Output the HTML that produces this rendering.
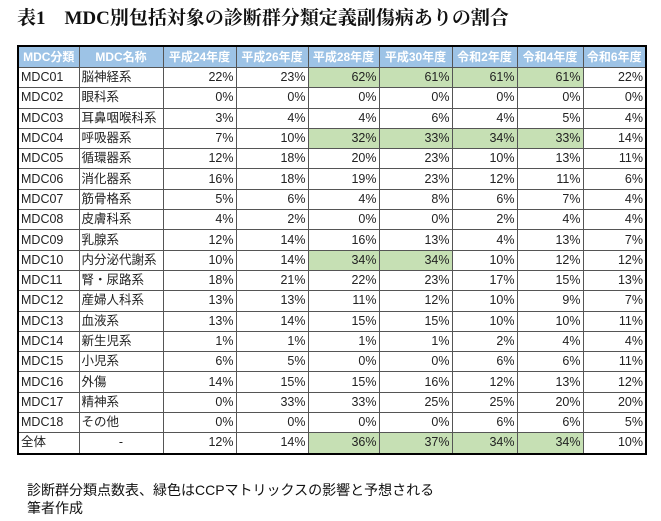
<!DOCTYPE html>
<html><head><meta charset="utf-8"><style>
body{margin:0;width:661px;height:521px;background:#fff;position:relative;overflow:hidden;font-family:"Liberation Sans","Noto Sans CJK JP",sans-serif;}
.t{position:absolute;left:17px;top:3px;font-family:"Liberation Serif","Noto Serif CJK SC",serif;font-size:19px;font-weight:bold;color:#111;white-space:nowrap;}
table{position:absolute;left:17px;top:45px;border-collapse:collapse;border:2px solid #000;table-layout:fixed;}
td,th{border:1px solid #555;height:19.3px;padding:0 2px;font-size:12.5px;color:#222;white-space:nowrap;overflow:hidden;line-height:19px;}
th{background:#9dc3e6;color:#fff;font-weight:bold;height:20px;font-size:12px;}
td.n{text-align:right;}
td.c{text-align:center;}
.g{background:#c6e0b4;}
.f{position:absolute;left:27px;font-size:14px;color:#111;white-space:nowrap;}
</style></head><body>
<div class="t">表1　MDC別包括対象の診断群分類定義副傷病ありの割合</div>
<table>
<colgroup><col style="width:61px"><col style="width:84px"><col style="width:73px"><col style="width:72px"><col style="width:71px"><col style="width:73px"><col style="width:65px"><col style="width:66px"><col style="width:63px"></colgroup>
<tr><th>MDC分類</th><th>MDC名称</th><th>平成24年度</th><th>平成26年度</th><th>平成28年度</th><th>平成30年度</th><th>令和2年度</th><th>令和4年度</th><th>令和6年度</th></tr>
<tr><td>MDC01</td><td>脳神経系</td><td class="n">22%</td><td class="n">23%</td><td class="n g">62%</td><td class="n g">61%</td><td class="n g">61%</td><td class="n g">61%</td><td class="n">22%</td></tr>
<tr><td>MDC02</td><td>眼科系</td><td class="n">0%</td><td class="n">0%</td><td class="n">0%</td><td class="n">0%</td><td class="n">0%</td><td class="n">0%</td><td class="n">0%</td></tr>
<tr><td>MDC03</td><td>耳鼻咽喉科系</td><td class="n">3%</td><td class="n">4%</td><td class="n">4%</td><td class="n">6%</td><td class="n">4%</td><td class="n">5%</td><td class="n">4%</td></tr>
<tr><td>MDC04</td><td>呼吸器系</td><td class="n">7%</td><td class="n">10%</td><td class="n g">32%</td><td class="n g">33%</td><td class="n g">34%</td><td class="n g">33%</td><td class="n">14%</td></tr>
<tr><td>MDC05</td><td>循環器系</td><td class="n">12%</td><td class="n">18%</td><td class="n">20%</td><td class="n">23%</td><td class="n">10%</td><td class="n">13%</td><td class="n">11%</td></tr>
<tr><td>MDC06</td><td>消化器系</td><td class="n">16%</td><td class="n">18%</td><td class="n">19%</td><td class="n">23%</td><td class="n">12%</td><td class="n">11%</td><td class="n">6%</td></tr>
<tr><td>MDC07</td><td>筋骨格系</td><td class="n">5%</td><td class="n">6%</td><td class="n">4%</td><td class="n">8%</td><td class="n">6%</td><td class="n">7%</td><td class="n">4%</td></tr>
<tr><td>MDC08</td><td>皮膚科系</td><td class="n">4%</td><td class="n">2%</td><td class="n">0%</td><td class="n">0%</td><td class="n">2%</td><td class="n">4%</td><td class="n">4%</td></tr>
<tr><td>MDC09</td><td>乳腺系</td><td class="n">12%</td><td class="n">14%</td><td class="n">16%</td><td class="n">13%</td><td class="n">4%</td><td class="n">13%</td><td class="n">7%</td></tr>
<tr><td>MDC10</td><td>内分泌代謝系</td><td class="n">10%</td><td class="n">14%</td><td class="n g">34%</td><td class="n g">34%</td><td class="n">10%</td><td class="n">12%</td><td class="n">12%</td></tr>
<tr><td>MDC11</td><td>腎・尿路系</td><td class="n">18%</td><td class="n">21%</td><td class="n">22%</td><td class="n">23%</td><td class="n">17%</td><td class="n">15%</td><td class="n">13%</td></tr>
<tr><td>MDC12</td><td>産婦人科系</td><td class="n">13%</td><td class="n">13%</td><td class="n">11%</td><td class="n">12%</td><td class="n">10%</td><td class="n">9%</td><td class="n">7%</td></tr>
<tr><td>MDC13</td><td>血液系</td><td class="n">13%</td><td class="n">14%</td><td class="n">15%</td><td class="n">15%</td><td class="n">10%</td><td class="n">10%</td><td class="n">11%</td></tr>
<tr><td>MDC14</td><td>新生児系</td><td class="n">1%</td><td class="n">1%</td><td class="n">1%</td><td class="n">1%</td><td class="n">2%</td><td class="n">4%</td><td class="n">4%</td></tr>
<tr><td>MDC15</td><td>小児系</td><td class="n">6%</td><td class="n">5%</td><td class="n">0%</td><td class="n">0%</td><td class="n">6%</td><td class="n">6%</td><td class="n">11%</td></tr>
<tr><td>MDC16</td><td>外傷</td><td class="n">14%</td><td class="n">15%</td><td class="n">15%</td><td class="n">16%</td><td class="n">12%</td><td class="n">13%</td><td class="n">12%</td></tr>
<tr><td>MDC17</td><td>精神系</td><td class="n">0%</td><td class="n">33%</td><td class="n">33%</td><td class="n">25%</td><td class="n">25%</td><td class="n">20%</td><td class="n">20%</td></tr>
<tr><td>MDC18</td><td>その他</td><td class="n">0%</td><td class="n">0%</td><td class="n">0%</td><td class="n">0%</td><td class="n">6%</td><td class="n">6%</td><td class="n">5%</td></tr>
<tr><td>全体</td><td class="c">-</td><td class="n">12%</td><td class="n">14%</td><td class="n g">36%</td><td class="n g">37%</td><td class="n g">34%</td><td class="n g">34%</td><td class="n">10%</td></tr>
</table>
<div class="f" style="top:480px">診断群分類点数表、緑色はCCPマトリックスの影響と予想される</div>
<div class="f" style="top:498px">筆者作成</div>
</body></html>
